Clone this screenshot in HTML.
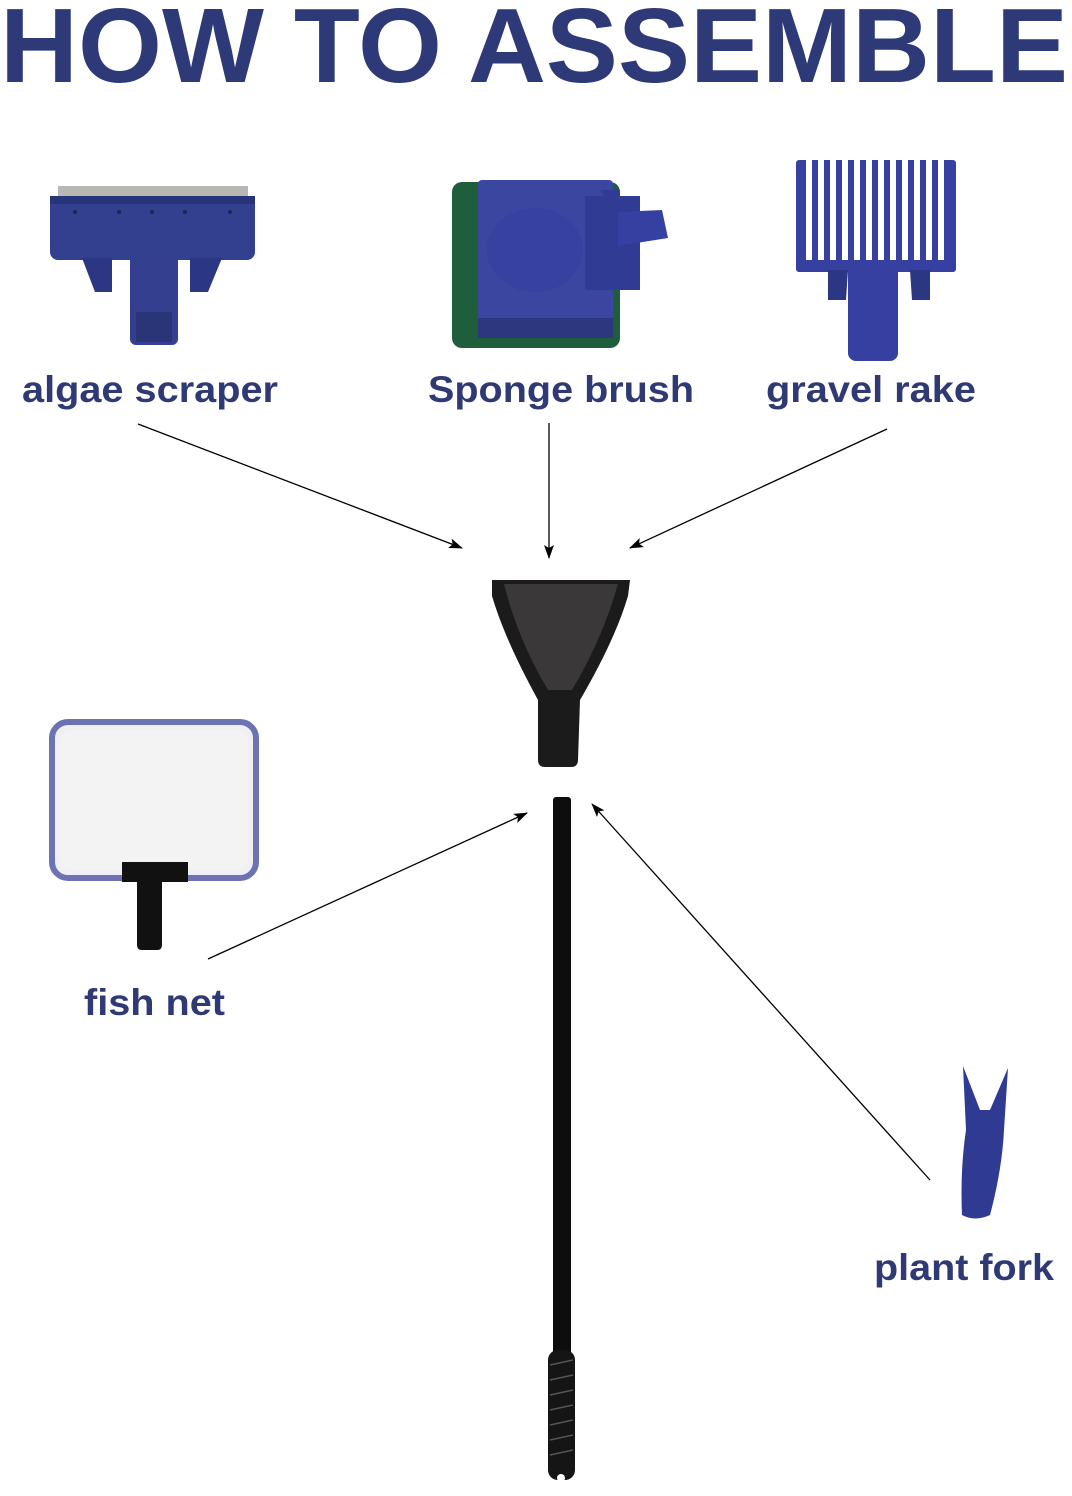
<!DOCTYPE html>
<html><head><meta charset="utf-8"><style>
html,body{margin:0;padding:0;background:#fff}
svg{display:block}
text{font-family:"Liberation Sans",Arial,sans-serif;font-weight:bold;fill:#2f3a75}
</style></head><body>
<svg width="1072" height="1496" viewBox="0 0 1072 1496" xmlns="http://www.w3.org/2000/svg">
<defs>
<marker id="ah" markerWidth="14" markerHeight="10" refX="13" refY="5" orient="auto" markerUnits="userSpaceOnUse">
<path d="M0,0 L14,5 L0,10 L3,5 Z" fill="#000"/></marker>
</defs>
<text x="0" y="82" font-size="106" textLength="1068" lengthAdjust="spacingAndGlyphs" style="fill:#2e3a78">HOW TO ASSEMBLE</text>

<!-- algae scraper -->
<rect x="58" y="186" width="190" height="14" fill="#b9b7b4"/>
<rect x="50" y="196" width="205" height="64" rx="8" fill="#333f8f"/>
<rect x="50" y="196" width="205" height="8" fill="#28347a"/>
<g fill="#1c2450"><circle cx="75" cy="212" r="2"/><circle cx="119" cy="212" r="2"/><circle cx="152" cy="212" r="2"/><circle cx="185" cy="212" r="2"/><circle cx="230" cy="212" r="2"/></g>
<path d="M82,258 L112,258 L112,292 L95,292 Z" fill="#2c3783"/>
<path d="M190,258 L222,258 L208,292 L190,292 Z" fill="#2c3783"/>
<rect x="130" y="255" width="48" height="90" rx="6" fill="#34408f"/>
<rect x="136" y="312" width="36" height="30" fill="#2a3578"/>

<!-- sponge brush -->
<rect x="452" y="182" width="168" height="166" rx="10" fill="#1f5e3d"/>
<rect x="478" y="180" width="135" height="155" rx="4" fill="#3a46a0"/>
<rect x="478" y="318" width="135" height="20" fill="#2c377f"/>
<ellipse cx="535" cy="250" rx="48" ry="42" fill="#3641a0"/>
<path d="M585,196 L640,196 L640,290 L585,290 Z" fill="#303b93"/>
<path d="M618,212 L662,210 L668,238 L618,246 Z" fill="#3541a0"/>
<path d="M600,190 L620,190 L615,210 Z" fill="#303b93"/>
<path d="M600,258 L625,262 L612,290 L595,290 Z" fill="#303b93"/>

<!-- gravel rake -->
<rect x="796" y="160" width="160" height="112" rx="3" fill="#3540a0"/>
<g fill="#fff">
<rect x="806" y="160" width="6" height="100"/><rect x="818" y="160" width="6" height="100"/><rect x="830" y="160" width="6" height="100"/><rect x="842" y="160" width="6" height="100"/><rect x="854" y="160" width="6" height="100"/><rect x="866" y="160" width="6" height="100"/><rect x="878" y="160" width="6" height="100"/><rect x="890" y="160" width="6" height="100"/><rect x="902" y="160" width="6" height="100"/><rect x="914" y="160" width="6" height="100"/><rect x="926" y="160" width="6" height="100"/><rect x="938" y="160" width="6" height="100"/>
</g>
<path d="M828,270 L848,270 L846,300 L828,300 Z" fill="#2c3783"/>
<path d="M910,270 L930,270 L930,300 L912,300 Z" fill="#2c3783"/>
<rect x="848" y="265" width="50" height="96" rx="8" fill="#3540a0"/>

<text x="22" y="402" font-size="37" textLength="256" lengthAdjust="spacingAndGlyphs">algae scraper</text>
<text x="428" y="402" font-size="37" textLength="266" lengthAdjust="spacingAndGlyphs">Sponge brush</text>
<text x="766" y="402" font-size="37" textLength="210" lengthAdjust="spacingAndGlyphs">gravel rake</text>

<!-- arrows -->
<g stroke="#000" stroke-width="1.3" fill="none" marker-end="url(#ah)">
<line x1="138" y1="424" x2="462" y2="548"/>
<line x1="549" y1="423" x2="549" y2="558"/>
<line x1="887" y1="429" x2="630" y2="548"/>
<line x1="208" y1="959" x2="527" y2="813"/>
<line x1="930" y1="1180" x2="592" y2="804"/>
</g>

<!-- handle head -->
<path d="M492,580 L630,580 L628,596 Q615,640 580,700 L578,760 Q578,767 571,767 L545,767 Q538,767 538,760 L538,700 Q505,640 492,596 Z" fill="#1b1b1b"/>
<path d="M504,584 L618,584 Q602,640 572,690 L548,690 Q518,640 504,584 Z" fill="#3a3838"/>

<!-- pole -->
<rect x="553" y="797" width="18" height="560" rx="3" fill="#0d0d0d"/>
<rect x="548" y="1350" width="27" height="130" rx="10" fill="#151515"/>
<g stroke="#555" stroke-width="1.5">
<line x1="550" y1="1365" x2="573" y2="1360"/><line x1="550" y1="1380" x2="573" y2="1375"/><line x1="550" y1="1395" x2="573" y2="1390"/><line x1="550" y1="1410" x2="573" y2="1405"/><line x1="550" y1="1425" x2="573" y2="1420"/><line x1="550" y1="1440" x2="573" y2="1435"/><line x1="550" y1="1455" x2="573" y2="1450"/>
</g>
<circle cx="561" cy="1478" r="4" fill="#fff"/>

<!-- fish net -->
<rect x="52" y="722" width="204" height="156" rx="16" fill="#eef0f5" stroke="#6c72b2" stroke-width="6"/>
<rect x="60" y="730" width="188" height="140" rx="12" fill="#f3f3f3"/>
<path d="M122,862 L188,862 L188,882 L162,882 L162,945 Q162,950 157,950 L142,950 Q137,950 137,945 L137,882 L122,882 Z" fill="#111"/>
<text x="84" y="1015" font-size="37" textLength="141" lengthAdjust="spacingAndGlyphs">fish net</text>

<!-- plant fork -->
<path d="M963,1066 L980,1110 L990,1110 L1008,1068 L1004,1130 Q1002,1170 990,1215 Q975,1222 962,1215 Q960,1170 966,1130 Z" fill="#2f3a92"/>
<text x="874" y="1280" font-size="37" textLength="180" lengthAdjust="spacingAndGlyphs">plant fork</text>
</svg>
</body></html>
